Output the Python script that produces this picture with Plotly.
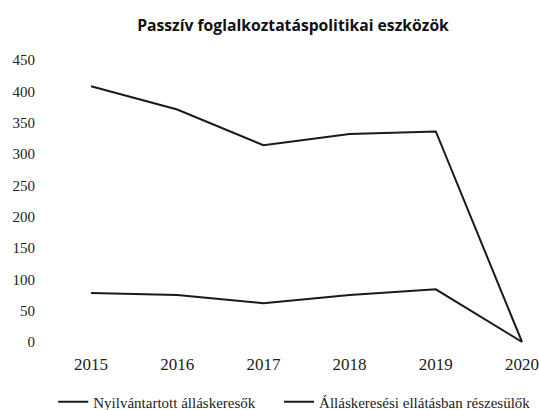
import plotly.graph_objects as go

years = [2015, 2016, 2017, 2018, 2019, 2020]
year_labels = ["2015", "2016", "2017", "2018", "2019", "2020"]
nyilvantartott = [408, 371, 314, 332, 336, 0]
ellatasban = [78, 75, 62, 75, 84, 0]
y_ticks = [0, 50, 100, 150, 200, 250, 300, 350, 400, 450]
series_names = ["Nyilvántartott álláskeresők", "Álláskeresési ellátásban részesülők"]

fig = go.Figure()
fig.add_trace(go.Scatter(x=years, y=nyilvantartott, mode="lines",
                         name=series_names[0] + "\u00a0" * 5,
                         line=dict(color="#1a1a1a", width=2)))
fig.add_trace(go.Scatter(x=years, y=ellatasban, mode="lines",
                         name=series_names[1],
                         line=dict(color="#1a1a1a", width=2)))

fig.update_layout(
    width=539, height=410,
    margin=dict(l=50, r=5, t=55, b=63, autoexpand=False),
    paper_bgcolor="white", plot_bgcolor="white",
    title=dict(text="<b>Passzív foglalkoztatáspolitikai eszközök</b>",
               x=0.5436, xanchor="center", xref="container",
               y=0.939, yanchor="middle", yref="container",
               font=dict(family="Open Sans", size=15.7, color="#111")),
    font=dict(family="Liberation Serif", size=15, color="#222"),
    xaxis=dict(range=[2014.524, 2020.139], tickmode="array", tickvals=years,
               ticktext=year_labels, showgrid=False, zeroline=False,
               showline=False, ticks="", fixedrange=True,
               tickfont=dict(size=17), ticklabelstandoff=5,
               ticklabeloverflow="allow"),
    yaxis=dict(range=[-8, 458], tickmode="array", tickvals=y_ticks,
               showgrid=False, zeroline=False, showline=False, ticks="",
               ticklabelstandoff=14),
    legend=dict(orientation="h", xref="container", yref="container",
                x=0.0988, xanchor="left", y=0.0195, yanchor="middle",
                font=dict(size=15), traceorder="normal"),
    showlegend=True,
)

fig.write_html("out.html", config={"displayModeBar": False},
               post_script="document.body.style.margin='0px';")
